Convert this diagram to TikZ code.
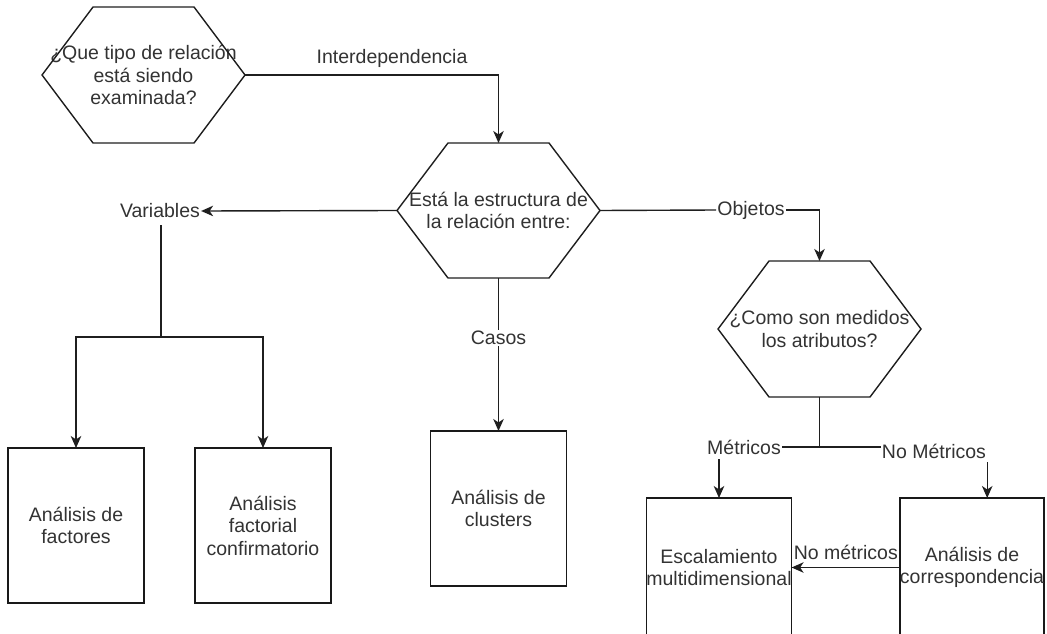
\documentclass[tikz,border=0pt]{standalone}
\usepackage{fontspec}
\setmainfont{Liberation Sans}
\usetikzlibrary{arrows.meta,calc}
\newcommand\hexpath[1]{\draw[conn] (#1.west) -- ($(#1.north west)+(51,0)$) -- ($(#1.north east)+(-51,0)$) -- (#1.east) -- ($(#1.south east)+(-51,0)$) -- ($(#1.south west)+(51,0)$) -- cycle;}
\begin{document}
\begin{tikzpicture}[x=1pt,y=-1pt,
  every node/.style={font=\fontsize{19.5}{22.5}\selectfont, text=black!80, align=center},
  hexnode/.style={minimum width=203pt, minimum height=136pt, inner sep=0pt, outer sep=0pt},
  boxnode/.style={draw=black!90, line width=1.4pt, minimum width=136pt, minimum height=155pt, inner sep=0pt, outer sep=0pt},
  lbl/.style={inner sep=1pt},
  conn/.style={draw=black!88, line width=1.4pt},
  arr/.style={conn, -{Stealth[length=12pt,width=10.5pt,inset=3.5pt]}},
]
\useasboundingbox (0,0) rectangle (1047,634);
\fill[white] (0,0) rectangle (1047,634);

% hexagons
\node[hexnode] (h1) at (143.5,75) {¿Que tipo de relación\\está siendo\\examinada?};
\node[hexnode, minimum height=135pt] (h2) at (498.5,210.5) {Está la estructura de\\la relación entre:};
\node[hexnode] (h3) at (819.5,329) {¿Como son medidos\\los atributos?};
\hexpath{h1}
\hexpath{h2}
\hexpath{h3}

% boxes
\node[boxnode] (b1) at (76,525.5) {Análisis de\\factores};
\node[boxnode] (b2) at (263,525.5) {Análisis\\factorial\\confirmatorio};
\node[boxnode] (clu) at (498.5,508.5) {Análisis de\\clusters};
\node[boxnode, minimum height=139pt] (esc) at (719,567.5) {Escalamiento\\multidimensional};
\node[boxnode, minimum height=139pt] (cor) at (972,567.5) {Análisis de\\correspondencia};

% labels acting as nodes
\node[lbl] (var) at (160,211) {Variables};
\node[lbl] (obj) at (751,210) {Objetos};
\node[lbl] (met) at (744,447) {Métricos};
\node[lbl] (nom) at (934,451) {No Métricos};
\coordinate (vs) at (161,337);

% connectors
\draw[arr] (h1.east) -- node[pos=0.58, above=5pt, inner sep=2pt]{Interdependencia} (h1.east -| h2.north) -- (h2.north);
\draw[arr] (h2.west) -- (var.east);
\draw[conn] ([yshift=-6pt]var.south -| vs) -- (vs);
\draw[arr] (vs) -| (b1.north);
\draw[arr] (vs) -| (b2.north);
\draw[arr] (h2.south) -- node[lbl, fill=white, pos=0.39]{Casos} (clu.north);
\draw[conn] (h2.east) -- (obj.west);
\draw[arr] (obj.east) -| (h3.north);
\draw[conn] (h3.south) -- (h3.south |- met.east);
\draw[conn] (met.east) -- (nom.west |- met.east);
\draw[arr] ([yshift=-4pt]met.south -| esc.north) -- (esc.north);
\draw[arr] ([yshift=-3pt]nom.south east) -- (nom.south east |- cor.north);
\draw[arr] (cor.west) -- node[above=6pt, inner sep=1pt]{No métricos} (esc.east);
\end{tikzpicture}
\end{document}
